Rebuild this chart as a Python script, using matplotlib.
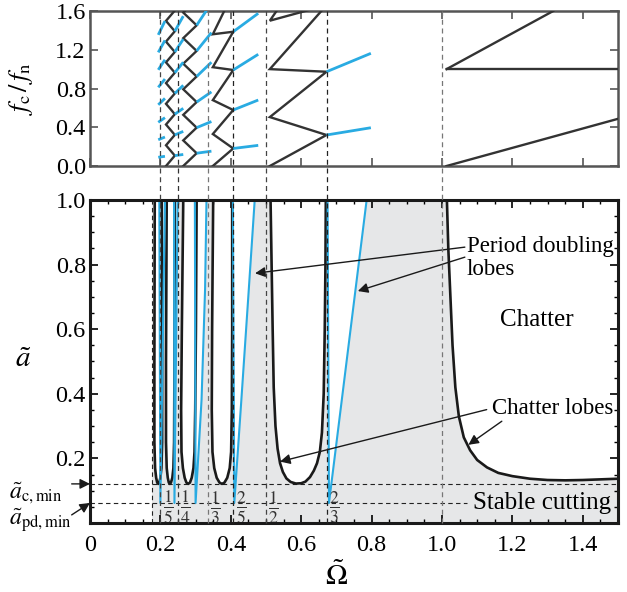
import matplotlib
matplotlib.use("Agg")
import matplotlib.pyplot as plt
import matplotlib.transforms as mtransforms
from matplotlib.lines import Line2D
from matplotlib.ticker import MultipleLocator

plt.rcParams["font.family"] = ["Liberation Serif", "DejaVu Serif"]
plt.rcParams["mathtext.fontset"] = "stix"

BLACK = "#1a1a1a"
BLUE = "#29abe2"
GRAY = "#e6e7e8"

# ---------------- bottom panel: stability lobes (Omega, a) ----------------
a_c_min = 0.121
a_pd_min = 0.062
shade_start = 0.175

hopf5_om = [0.184, 0.183, 0.183, 0.185, 0.188, 0.191, 0.194, 0.197, 0.200, 0.203, 0.205, 0.205, 0.204]
hopf5_a = [1.0, 0.5, 0.25, 0.17, 0.14, 0.125, 0.121, 0.125, 0.14, 0.17, 0.25, 0.5, 1.0]
hopf4_om = [0.218, 0.216, 0.216, 0.218, 0.221, 0.224, 0.227, 0.230, 0.234, 0.237, 0.239, 0.240, 0.241]
hopf4_a = [1.0, 0.5, 0.25, 0.17, 0.14, 0.125, 0.121, 0.125, 0.14, 0.17, 0.25, 0.5, 1.0]
hopf3_om = [0.265, 0.261, 0.259, 0.260, 0.264, 0.269, 0.274, 0.279, 0.284, 0.289, 0.294, 0.297, 0.299, 0.301, 0.303]
hopf3_a = [1.0, 0.6, 0.35, 0.22, 0.17, 0.14, 0.125, 0.121, 0.125, 0.14, 0.17, 0.22, 0.35, 0.6, 1.0]
hopf2_om = [0.350, 0.347, 0.346, 0.348, 0.353, 0.360, 0.368, 0.375, 0.382, 0.390, 0.397, 0.401, 0.403, 0.404, 0.404]
hopf2_a = [1.0, 0.6, 0.35, 0.22, 0.17, 0.14, 0.125, 0.121, 0.125, 0.14, 0.17, 0.22, 0.35, 0.6, 1.0]
hopf1_om = [0.513, 0.516, 0.519, 0.522, 0.527, 0.533, 0.540, 0.548, 0.558, 0.570, 0.585, 0.600,
            0.612, 0.625, 0.636, 0.645, 0.653, 0.659, 0.664, 0.667, 0.669, 0.670]
hopf1_a = [1.0, 0.8, 0.6, 0.42, 0.30, 0.23, 0.185, 0.158, 0.138, 0.127, 0.122, 0.123,
           0.128, 0.142, 0.162, 0.185, 0.22, 0.28, 0.40, 0.6, 0.8, 1.0]
hopf0_om = [1.014, 1.018, 1.024, 1.030, 1.038, 1.048, 1.062, 1.080, 1.100, 1.128, 1.160,
            1.200, 1.250, 1.300, 1.350, 1.400, 1.450, 1.500]
hopf0_a = [1.0, 0.85, 0.70, 0.55, 0.42, 0.33, 0.265, 0.225, 0.195, 0.172, 0.155,
           0.145, 0.137, 0.133, 0.132, 0.133, 0.135, 0.137]

flip5_om = [0.197, 0.200, 0.213]
flip5_a = [1.0, 0.062, 1.0]
flip4_om = [0.239, 0.240, 0.249]
flip4_a = [1.0, 0.062, 1.0]
flip3_om = [0.298, 0.300, 0.317, 0.327, 0.331]
flip3_a = [1.0, 0.062, 0.382, 0.724, 1.0]
flip2_om = [0.406, 0.409, 0.410, 0.430, 0.451, 0.468]
flip2_a = [1.0, 0.3, 0.062, 0.38, 0.72, 1.0]
flip1_om = [0.675, 0.678, 0.679, 0.699, 0.786]
flip1_a = [1.0, 0.3, 0.062, 0.237, 1.0]

# dashed guide lines and fraction labels
vline_om = [0.2, 0.25, 0.335, 0.407, 0.5, 0.672, 1.0]
vline_col = ["#444", "#333", "#777", "#222", "#444", "#222", "#777"]
frac_om = [0.2, 0.25, 0.335, 0.407, 0.5, 0.672]
frac_txt = [r"$\frac{1}{5}$", r"$\frac{1}{4}$", r"$\frac{1}{3}$",
            r"$\frac{2}{5}$", r"$\frac{1}{2}$", r"$\frac{2}{3}$"]

# ---------------- top panel: chatter frequencies (Omega, fc/fn) ----------------
zig4_om = [0.216, 0.241] * 8
zig4_f = [0.0, 0.107, 0.214, 0.321, 0.428, 0.535, 0.642, 0.749,
          0.856, 0.963, 1.07, 1.177, 1.284, 1.391, 1.498, 1.605]
zig3_om = [0.265, 0.303] * 7
zig3_f = [0.0, 0.132, 0.264, 0.396, 0.528, 0.660, 0.792, 0.924,
          1.056, 1.188, 1.32, 1.452, 1.584, 1.716]
zig2_om = [0.349, 0.407] * 5
zig2_f = [0.0, 0.181, 0.33, 0.578, 0.68, 0.991, 1.02, 1.386, 1.36, 1.79]
zig1_om = [0.511, 0.672] * 4
zig1_f = [0.0, 0.32, 0.505, 0.973, 1.0, 1.66, 1.5, 2.35]
big_lines_om = [[1.013, 1.5], [1.013, 1.5], [1.013, 1.316]]
big_lines_f = [[0.0, 0.487], [1.0, 1.0], [1.0, 1.6]]

flip5_seg_om = (0.194, 0.213)
flip5_seg_f = [(0.090, 0.100), (0.271, 0.299), (0.451, 0.499), (0.632, 0.698),
               (0.812, 0.898), (0.993, 1.097), (1.173, 1.297), (1.354, 1.496)]
flip4_seg_om = (0.241, 0.265)
flip4_seg_f = [(0.107, 0.119), (0.321, 0.357), (0.535, 0.595), (0.749, 0.833),
               (0.963, 1.071), (1.177, 1.309), (1.391, 1.547)]
flip3_seg_om = (0.303, 0.345)
flip3_seg_f = [(0.132, 0.153), (0.396, 0.459), (0.660, 0.765), (0.924, 1.071),
               (1.188, 1.377), (1.452, 1.683)]
flip2_seg_om = (0.407, 0.478)
flip2_seg_f = [(0.181, 0.213), (0.578, 0.681), (0.991, 1.153), (1.386, 1.576)]
flip1_seg_om = (0.672, 0.798)
flip1_seg_f = [(0.32, 0.395), (0.973, 1.163)]

# ---------------- figure ----------------
fig = plt.figure(figsize=(6.27, 5.92), dpi=100)
ax1 = fig.add_axes([0.1435, 0.7196, 0.8421, 0.2618])
ax2 = fig.add_axes([0.1435, 0.1166, 0.8421, 0.5456])

# top panel
for om, f in [(zig4_om, zig4_f), (zig3_om, zig3_f), (zig2_om, zig2_f), (zig1_om, zig1_f)]:
    ax1.plot(om, f, color="#333", lw=1.7, solid_joinstyle="miter", zorder=3)
for om, f in zip(big_lines_om, big_lines_f):
    ax1.plot(om, f, color="#333", lw=1.7, zorder=3)
for seg_om, seg_f in [(flip5_seg_om, flip5_seg_f), (flip4_seg_om, flip4_seg_f),
                      (flip3_seg_om, flip3_seg_f), (flip2_seg_om, flip2_seg_f),
                      (flip1_seg_om, flip1_seg_f)]:
    for f in seg_f:
        ax1.plot(seg_om, f, color=BLUE, lw=2.0, solid_capstyle="butt", zorder=4)

ax1.set_xlim(0, 1.5)
ax1.set_ylim(0, 1.6)
ax1.set_xticks([0, 0.2, 0.4, 0.6, 0.8, 1.0, 1.2, 1.4])
ax1.set_xticklabels([])
ax1.set_yticks([0, 0.4, 0.8, 1.2, 1.6])
ax1.set_yticklabels(["0.0", "0.4", "0.8", "1.2", "1.6"])
ax1.tick_params(direction="in", top=True, right=True, length=6, width=1.2,
                color="#555", labelsize=17.5, pad=3)
for sp in ax1.spines.values():
    sp.set_color("#555")
    sp.set_linewidth(1.8)
ax1.set_ylabel(r"$f_\mathrm{c}\,/\,f_\mathrm{n}$", fontsize=19)
ax1.yaxis.set_label_coords(-0.105, 0.5)

# bottom panel
ax2.axvspan(shade_start, 1.5, color=GRAY, lw=0, zorder=0)
ax2.fill(hopf0_om + [1.5], hopf0_a + [1.0], color="white", lw=0, zorder=1)
hopf = [(hopf5_om, hopf5_a), (hopf4_om, hopf4_a), (hopf3_om, hopf3_a),
        (hopf2_om, hopf2_a), (hopf1_om, hopf1_a)]
flips = [(flip5_om, flip5_a), (flip4_om, flip4_a), (flip3_om, flip3_a),
         (flip2_om, flip2_a), (flip1_om, flip1_a)]
for om, a in hopf + flips:
    ax2.fill(om, a, color="white", lw=0, zorder=1)
for om, a in hopf + [(hopf0_om, hopf0_a)]:
    ax2.plot(om, a, color=BLACK, lw=1.9, zorder=4)
for om, a in flips:
    ax2.plot(om, a, color=BLUE, lw=1.5, zorder=5)

dash = (0, (4, 3))
ax2.plot([0, 1.5], [a_c_min, a_c_min], color="#222", lw=0.8, ls=dash, zorder=3)
ax2.plot([0, 1.07], [a_pd_min, a_pd_min], color="#222", lw=0.8, ls=dash, zorder=3)
ax2.plot([shade_start, shade_start], [0, 1], color="#222", lw=0.8, ls=dash, zorder=3)

trans = mtransforms.blended_transform_factory(ax2.transData, fig.transFigure)
for om, c in zip(vline_om, vline_col):
    fig.add_artist(Line2D([om, om], [0.1166, 0.981], transform=trans,
                          color=c, lw=0.9, ls=dash))

for om, t in zip(frac_om, frac_txt):
    ax2.text(om + 0.007, 0.048, t, fontsize=18, color="#333", ha="left", va="center", zorder=6)

ax2.set_xlim(0, 1.5)
ax2.set_ylim(0, 1.0)
ax2.set_xticks([0, 0.2, 0.4, 0.6, 0.8, 1.0, 1.2, 1.4])
ax2.set_xticklabels(["0", "0.2", "0.4", "0.6", "0.8", "1.0", "1.2", "1.4"])
ax2.set_yticks([0.2, 0.4, 0.6, 0.8, 1.0])
ax2.set_yticklabels(["0.2", "0.4", "0.6", "0.8", "1.0"])
ax2.xaxis.set_minor_locator(MultipleLocator(0.05))
ax2.yaxis.set_minor_locator(MultipleLocator(0.05))
ax2.tick_params(which="both", direction="in", top=True, right=True)
ax2.tick_params(which="major", length=6, width=1.2, labelsize=17.5)
ax2.tick_params(axis="x", which="major", pad=9)
ax2.tick_params(axis="y", which="major", pad=3)
ax2.tick_params(which="minor", length=3, width=1.0)
for sp in ax2.spines.values():
    sp.set_color(BLACK)
    sp.set_linewidth(2.2)
    sp.set_zorder(6)

ax2.text(-0.127, 0.505, r"$\tilde{a}$", transform=ax2.transAxes, fontsize=21,
         ha="center", va="center")
ax2.text(0.466, -0.164, r"$\tilde{\Omega}$", transform=ax2.transAxes, fontsize=21,
         ha="center", va="center")

# minimum depth labels with arrows
arrow = dict(arrowstyle="-|>", color=BLACK, lw=1.0, mutation_scale=15, shrinkA=0, shrinkB=0)
ax2.annotate("", xy=(0, a_c_min), xytext=(-0.052, a_c_min), arrowprops=arrow,
             annotation_clip=False)
ax2.annotate("", xy=(0, a_pd_min), xytext=(-0.052, 0.025), arrowprops=arrow,
             annotation_clip=False)
fig.text(9 / 627, 1 - 493 / 592, r"$\tilde{a}_\mathrm{c,min}$", fontsize=17,
         ha="left", va="center")
fig.text(9 / 627, 1 - 521 / 592, r"$\tilde{a}_\mathrm{pd,min}$", fontsize=17,
         ha="left", va="center")

# annotations
ax2.text(1.071, 0.82, "Period doubling\nlobes", fontsize=16.5, ha="left", va="center",
         linespacing=1.1, zorder=7)
ax2.annotate("", xy=(0.469, 0.773), xytext=(1.065, 0.854), arrowprops=arrow, zorder=7)
ax2.annotate("", xy=(0.761, 0.718), xytext=(1.065, 0.823), arrowprops=arrow, zorder=7)
ax2.text(1.142, 0.354, "Chatter lobes", fontsize=16.5, ha="left", va="center", zorder=7)
ax2.annotate("", xy=(0.54, 0.19), xytext=(1.127, 0.351), arrowprops=arrow, zorder=7)
ax2.annotate("", xy=(1.075, 0.242), xytext=(1.17, 0.315), arrowprops=arrow, zorder=7)
ax2.text(1.27, 0.627, "Chatter", fontsize=18, ha="center", va="center", zorder=7)
ax2.text(1.283, 0.062, "Stable cutting", fontsize=18, ha="center", va="center", zorder=7)

fig.savefig("out.png", dpi=100, facecolor="white")
